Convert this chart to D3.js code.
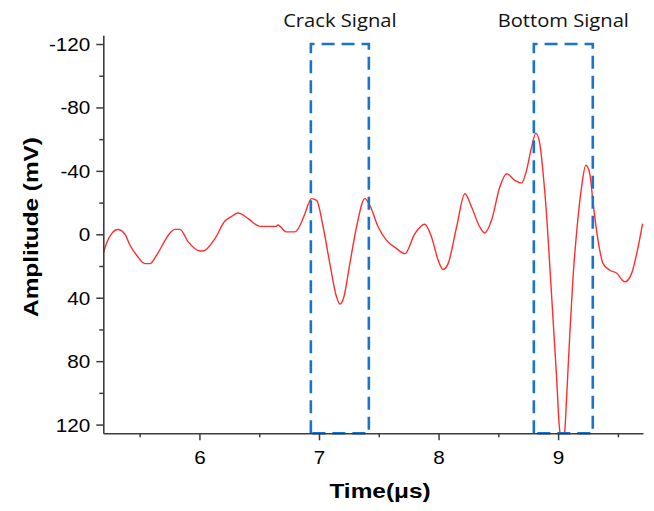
<!DOCTYPE html>
<html>
<head>
<meta charset="utf-8">
<script src="https://cdn.jsdelivr.net/npm/d3@7"></script>
<style>
  html, body { margin: 0; padding: 0; background: #fff; }
  svg { display: block; }
</style>
</head>
<body>
<svg id="chart" width="654" height="511"></svg>
<script>
// Ultrasonic A-scan trace: time (µs) and amplitude (mV)
const timeUs = [
  5.196, 5.227, 5.266, 5.316, 5.377, 5.419, 5.475, 5.544, 5.586, 5.642,
  5.697, 5.739, 5.795, 5.837, 5.906, 6.004, 6.032, 6.130, 6.213, 6.269,
  6.324, 6.408, 6.506, 6.645, 6.654, 6.729, 6.798, 6.855, 6.882, 6.938,
  6.980, 7.035, 7.091, 7.147, 7.175, 7.208, 7.258, 7.314, 7.384, 7.425,
  7.495, 7.565, 7.649, 7.718, 7.802, 7.885, 7.941, 7.997, 8.038, 8.080,
  8.151, 8.220, 8.276, 8.345, 8.387, 8.443, 8.512, 8.569, 8.638, 8.694,
  8.736, 8.778, 8.814, 8.847, 8.875, 8.903, 8.931, 8.958, 8.987, 9.008,
  9.035, 9.056, 9.070, 9.098, 9.125, 9.159, 9.196, 9.232, 9.265, 9.293,
  9.334, 9.376, 9.433, 9.488, 9.558, 9.614, 9.669, 9.706
];
const amplitudeMv = [
  12.0, 4.8, -0.4, -3.0, 0.0, 6.9, 13.2, 18.5, 18.5, 13.2,
  5.9, 0.6, -3.1, -3.1, 4.8, 10.5, 10.5, 2.7, -8.4, -11.3,
  -13.4, -9.9, -5.0, -5.0, -5.9, -1.5, -1.5, -7.8, -13.0, -22.5,
  -21.4, -4.6, 18.5, 39.5, 44.0, 39.5, 18.5, -4.6, -22.5, -18.3,
  -4.6, 3.8, 9.0, 12.2, -0.4, -6.3, 1.7, 16.4, 22.2, 18.5,
  -4.6, -25.6, -17.2, -4.6, -0.8, -8.8, -29.8, -38.2, -34.0, -32.3,
  -40.3, -55.0, -63.8, -57.1, -38.2, -13.0, 20.6, 54.2, 89.9, 119.2,
  132.0, 124.0, 104.6, 62.6, 26.9, -4.6, -29.8, -43.5, -38.2, -19.3,
  3.8, 18.5, 22.7, 24.4, 30.0, 24.8, 8.0, -6.7
];

// Axis ticks
const xMajorTicks = [6, 7, 8, 9];
const xMinorTicks = [5.5, 6.5, 7.5, 8.5, 9.5];
const yMajorTicks = [-120, -80, -40, 0, 40, 80, 120];
const yMinorTicks = [-100, -60, -20, 20, 60, 100];

// Highlighted time windows
const windowNames = ["Crack Signal", "Bottom Signal"];
const windowStart = [6.932, 8.797];
const windowEnd = [7.417, 9.290];
const windowTopMv = -120;

const xDomain = [5.196, 9.71];
const yDomain = [-125.5, 125.5];

// Layout
const plot = { left: 103.3, right: 643, top: 35.3, bottom: 433.3 };
const axisColor = "#3c3c3c";
const traceColor = "#ff2d2d";
const windowColor = "#1874cd";
const plainNumber = d => String(d);   // keeps the ASCII hyphen on negatives

const svg = d3.select("#chart");

const x = d3.scaleLinear().domain(xDomain).range([plot.left, plot.right]);
// amplitude axis is inverted: negative values at the top
const y = d3.scaleLinear().domain(yDomain).range([plot.top, plot.bottom]);

svg.append("defs").append("clipPath").attr("id", "plot-clip")
  .append("rect")
  .attr("x", plot.left).attr("y", plot.top)
  .attr("width", plot.right - plot.left).attr("height", plot.bottom - plot.top);

// Signal trace
const line = d3.line()
  .x((d, i) => x(timeUs[i]))
  .y(d => y(d))
  .curve(d3.curveMonotoneX);

svg.append("path")
  .attr("clip-path", "url(#plot-clip)")
  .attr("d", line(amplitudeMv))
  .attr("fill", "none")
  .attr("stroke", traceColor)
  .attr("stroke-width", 1.4)
  .attr("stroke-linejoin", "round");

// Dashed windows
windowNames.forEach((name, i) => {
  const x0 = x(windowStart[i]), x1 = x(windowEnd[i]);
  const y0 = y(windowTopMv), y1 = y(yDomain[1]);
  svg.append("path")
    .attr("d", `M${x0},${y1}V${y0}H${x1}V${y1}H${x0}`)
    .attr("fill", "none")
    .attr("stroke", windowColor)
    .attr("stroke-width", 2.6)
    .attr("stroke-dasharray", "13,7");
  svg.append("text")
    .attr("transform", `translate(${(x0 + x1) / 2},27) scale(1.12,1)`)
    .attr("text-anchor", "middle")
    .attr("font-family", "'Open Sans', 'Noto Sans', sans-serif")
    .attr("font-size", 18)
    .attr("fill", "#111")
    .text(name);
});

// Axes
function styleAxis(g) {
  g.attr("font-family", "'Liberation Sans', Arial, sans-serif");
  g.select(".domain").attr("stroke", axisColor).attr("stroke-width", 1.6);
  g.selectAll(".tick line").attr("stroke", axisColor).attr("stroke-width", 1.5);
}

const yAxis = svg.append("g")
  .attr("transform", `translate(${plot.left},0)`)
  .call(d3.axisLeft(y).tickValues(yMajorTicks).tickSize(7).tickSizeOuter(0)
    .tickFormat(plainNumber))
  .call(styleAxis);
yAxis.selectAll(".tick text")
  .attr("x", null).attr("dy", "0.36em")
  .attr("transform", "translate(-13,0) scale(1.15,1)")
  .attr("font-size", 18).attr("fill", "#000");

svg.append("g")
  .attr("transform", `translate(${plot.left},0)`)
  .call(d3.axisLeft(y).tickValues(yMinorTicks).tickSize(4).tickFormat(""))
  .call(styleAxis)
  .call(g => g.select(".domain").remove());

const xAxis = svg.append("g")
  .attr("transform", `translate(0,${plot.bottom})`)
  .call(d3.axisBottom(x).tickValues(xMajorTicks).tickSize(7).tickSizeOuter(0)
    .tickFormat(plainNumber))
  .call(styleAxis);
xAxis.selectAll(".tick text")
  .attr("y", null).attr("dy", null)
  .attr("transform", "translate(0,31) scale(1.15,1)")
  .attr("font-size", 18).attr("fill", "#000");

svg.append("g")
  .attr("transform", `translate(0,${plot.bottom})`)
  .call(d3.axisBottom(x).tickValues(xMinorTicks).tickSize(4).tickFormat(""))
  .call(styleAxis)
  .call(g => g.select(".domain").remove());

// Axis titles
svg.append("text")
  .attr("transform", "translate(380,498) scale(1.22,1)")
  .attr("text-anchor", "middle")
  .attr("font-family", "'Liberation Sans', Arial, sans-serif")
  .attr("font-weight", "bold")
  .attr("font-size", 20)
  .attr("fill", "#000")
  .text("Time(μs)");

svg.append("text")
  .attr("transform", "translate(38,227) rotate(-90) scale(1.16,1)")
  .attr("text-anchor", "middle")
  .attr("font-family", "'Liberation Sans', Arial, sans-serif")
  .attr("font-weight", "bold")
  .attr("font-size", 21)
  .attr("fill", "#000")
  .text("Amplitude (mV)");
</script>
</body>
</html>
